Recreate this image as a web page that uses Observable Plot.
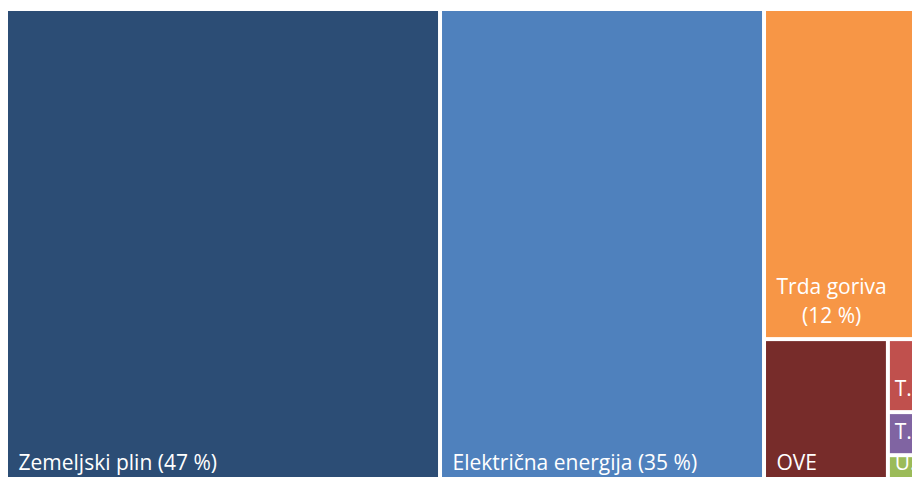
<!DOCTYPE html>
<html>
<head>
<meta charset="utf-8">
<script src="https://cdn.jsdelivr.net/npm/d3@7"></script>
<script src="https://cdn.jsdelivr.net/npm/@observablehq/plot@0.6"></script>
<style>
  html, body { margin: 0; padding: 0; background: #ffffff; overflow: hidden; }
  #chart svg { display: block; }
</style>
</head>
<body>
<div id="chart"></div>
<script>
// Energy sources (share of total, %)
const names   = ["Zemeljski plin", "Električna energija", "Trda goriva", "OVE", "Tekoča goriva", "Toplota", "UNP"];
const values  = [47.1, 35.16, 12.27, 4.14, 0.656, 0.387, 0.277];
const pctText = ["47 %", "35 %", "12 %", null, null, null, null];
const colors  = ["#2c4d75", "#4f81bd", "#f79646", "#772c2a", "#c0504d", "#8064a2", "#9bbb59"];
// nesting depth of the group that holds each item (Excel-style nested slice/dice layout)
const groupDepth = [0, 0, 1, 2, 3, 3, 3];

const FONT = "'Open Sans', sans-serif";
const FS = 21;

// build hierarchy
const root = {children: []};
const groups = [root];
names.forEach((n, i) => {
  const d = groupDepth[i];
  while (groups.length - 1 < d) {
    const g = {children: []};
    groups[groups.length - 1].children.push(g);
    groups.push(g);
  }
  groups[d].children.push({name: n, value: values[i], color: colors[i], pct: pctText[i], idx: i});
});

const W = 917.4, H = 473;
const hier = d3.hierarchy(root).sum(d => d.value || 0);
d3.treemap().tile(d3.treemapSliceDice).size([W, H]).paddingInner(4).round(false)(hier);
const leaves = hier.leaves().sort((a, b) => a.data.idx - b.data.idx);

const ctx = document.createElement("canvas").getContext("2d");
ctx.font = `${FS}px ${FONT}`;
const mw = s => ctx.measureText(s).width;

const cells = leaves.map(l => ({
  name: l.data.name, color: l.data.color,
  x0: l.x0, x1: l.x1, y0: l.y0, y1: l.y1
}));

const labels = leaves.map(l => {
  const w = l.x1 - l.x0;
  const pad = Math.min(10, w * 0.12);
  const avail = w - 2 * pad;
  const full = l.data.pct ? `${l.data.name} (${l.data.pct})` : l.data.name;
  let lines;
  if (mw(full) <= avail) lines = [full];
  else if (l.data.pct && mw(l.data.name) <= avail) lines = [l.data.name, `(${l.data.pct})`];
  else if (mw(l.data.name) <= avail) lines = [l.data.name];
  else lines = [l.data.name[0] + ".."];
  const bw = Math.max(...lines.map(mw));
  return {text: lines.join("\n"), x: l.x0 + pad + bw / 2, y: l.y1 - 15};
});

const chart = Plot.plot({
  width: 912,
  height: 477,
  margin: 0,
  x: {domain: [0, W], range: [8, 8 + W], axis: null},
  y: {domain: [0, H], range: [11, 11 + H], axis: null},
  style: {background: "#ffffff"},
  marks: [
    Plot.rect(cells, {x1: "x0", x2: "x1", y1: "y0", y2: "y1", fill: d => d.color}),
    Plot.text(labels, {
      x: "x", y: "y", text: "text",
      textAnchor: "middle", lineAnchor: "bottom", lineHeight: 1.35,
      fill: "white", fontSize: FS, fontFamily: FONT
    })
  ]
});
document.getElementById("chart").appendChild(chart);
</script>
</body>
</html>
